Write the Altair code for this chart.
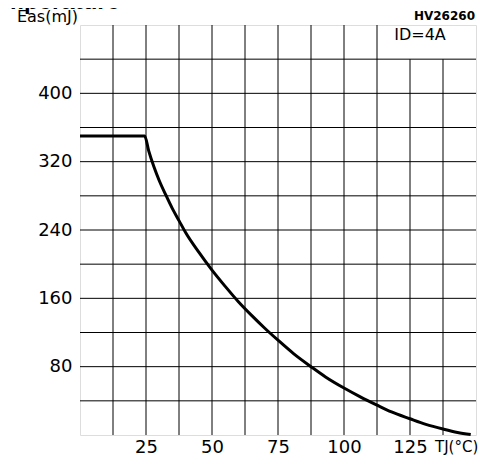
import altair as alt
import pandas as pd

# Curve: avalanche energy vs junction temperature
tj = [0, 24.5, 26, 28, 30, 32.5, 35, 37.5, 40, 45, 50, 55, 60, 65, 70, 75,
      81, 87.5, 93, 100, 106, 112.5, 118, 125, 131, 137.5, 143, 148]
eas = [350, 350, 333, 314, 298, 281, 265, 251, 237, 214, 193, 174, 156, 140, 125, 111,
       95, 80, 68, 55, 45, 35, 27, 19, 12.5, 7, 3, 0.5]

x_grid = [12.5 * i for i in range(1, 12)]
x_grid_top = [480 if v not in (125, 137.5) else 440 for v in x_grid]
y_grid = [40 * i for i in range(1, 12)]
x_labels = [25, 50, 75, 100, 125]
y_labels = [80, 160, 240, 320, 400]

curve = pd.DataFrame({"tj": tj, "eas": eas})
vgrid = pd.DataFrame({"x": x_grid, "y1": [0] * len(x_grid), "y2": x_grid_top})
hgrid = pd.DataFrame({"y": y_grid})
one = pd.DataFrame({"k": [0]})

xs = alt.Scale(domain=[0, 150], nice=False, zero=False)
ys = alt.Scale(domain=[0, 480], nice=False, zero=False)

x_axis = alt.Axis(values=x_labels, title=None, grid=False, domain=False, ticks=False,
                  labelFont="DejaVu Sans", labelFontSize=18, labelColor="black",
                  labelPadding=3)
y_axis = alt.Axis(values=y_labels, title=None, grid=False, domain=False, ticks=False,
                  labelFont="DejaVu Sans", labelFontSize=18, labelColor="black",
                  labelPadding=8)

vrules = alt.Chart(vgrid).mark_rule(color="black", strokeWidth=1).encode(
    x=alt.X("x:Q", scale=xs, axis=x_axis),
    y=alt.Y("y1:Q", scale=ys, axis=y_axis),
    y2="y2:Q",
)
hrules = alt.Chart(hgrid).mark_rule(color="black", strokeWidth=1).encode(
    y=alt.Y("y:Q", scale=ys, axis=y_axis),
)
line = alt.Chart(curve).mark_line(color="black", strokeWidth=3, interpolate="monotone").encode(
    x=alt.X("tj:Q", scale=xs, axis=x_axis),
    y=alt.Y("eas:Q", scale=ys, axis=y_axis),
)

def label(text, x, y, **kw):
    return alt.Chart(one).mark_text(text=text, color="black", **kw).encode(
        x=alt.value(x), y=alt.value(y))

t_eas = label("Eas(mJ)", -2, -8, align="right", baseline="middle", font="DejaVu Sans", fontSize=16)
t_hv = label("HV26260", 395, -9, align="right", baseline="middle", font="DejaVu Sans",
             fontSize=12, fontWeight="bold")
t_id = label("ID=4A", 340, 10, align="center", baseline="middle", font="DejaVu Sans", fontSize=16)
t_tj = label("TJ(°C)", 355, 422, align="left", baseline="middle", font="DejaVu Sans", fontSize=15)
t_title = label("Temperature", 40, -16, align="right", baseline="alphabetic",
                font="Liberation Sans", fontSize=24, fontWeight="bold")

chart = alt.layer(vrules, hrules, line, t_eas, t_hv, t_id, t_tj, t_title).properties(
    width=396, height=410,
    autosize=alt.AutoSizeParams(type="none"),
    padding={"left": 72, "top": 17, "right": 3, "bottom": 20},
).configure_view(stroke="black", strokeWidth=2).configure(background="white")

chart.save("out.html", embed_options={"renderer": "svg", "actions": False})
